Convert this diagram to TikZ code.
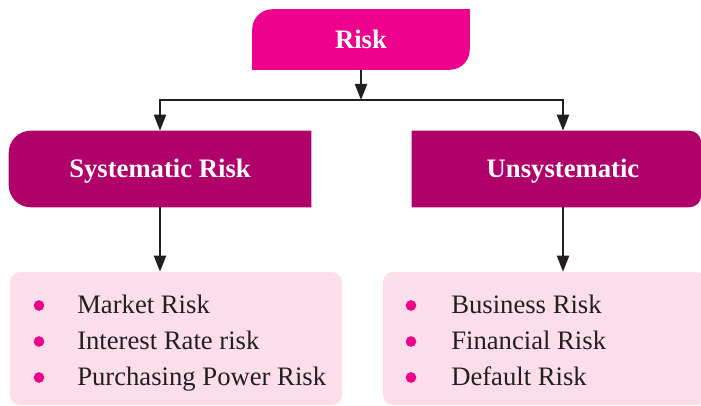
\documentclass[tikz,border=0pt]{standalone}
\usepackage{fontspec}
\setmainfont{Liberation Serif}
\usetikzlibrary{arrows.meta,backgrounds}
\definecolor{PinkTop}{RGB}{236,0,140}
\definecolor{PinkMid}{RGB}{176,0,106}
\definecolor{PinkLst}{RGB}{251,222,233}
\definecolor{InkDark}{RGB}{35,31,32}
\tikzset{
    TT/.style ={rectangle,minimum width = 162.75pt, minimum height = 45pt, text=white, font=\fontsize{20}{24}\selectfont\bfseries, text height=13.5pt, text depth=0pt},
    MM/.style ={rectangle,minimum width = 226.5pt, minimum height = 57pt, text=white, font=\fontsize{20}{24}\selectfont\bfseries, text height=13.5pt, text depth=0pt},
    LB/.style ={rectangle,rounded corners=7.5pt, minimum height = 99.75pt, fill=PinkLst},
    IT/.style ={anchor=base west, inner sep=0pt, text=InkDark, font=\fontsize{20}{24}\selectfont},
    AR/.style ={-{Triangle[length=12pt,width=9pt]}, line width=1.5pt, draw=InkDark},
    BU/.style ={fill=PinkTop}}

\begin{document}
\begin{tikzpicture}[x=0.75pt,y=-0.75pt]
        \useasboundingbox (0,0) rectangle (701,406);
        \node[TT] (1) at(361,39.5){Risk};
        \node[MM] (2) at(160,169){Systematic Risk};
        \node[MM] (3) at(563,169){Unsystematic};
        \node[LB,minimum width = 249pt] (4) at(176,338.5){};
        \node[LB,minimum width = 242.25pt] (5) at(544.5,338.5){};
        \begin{scope}[on background layer]
            \fill[PinkTop] (1.south west) -- ([yshift=-15pt]1.north west) arc[start angle=180,end angle=90,radius=15pt]
                -- (1.north east) -- ([yshift=15pt]1.south east) arc[start angle=0,end angle=-90,radius=15pt] -- cycle;
            \fill[PinkMid] ([xshift=16.5pt]2.south west) arc[start angle=270,end angle=180,radius=16.5pt]
                -- ([yshift=-16.5pt]2.north west) arc[start angle=180,end angle=90,radius=16.5pt]
                -- (2.north east) -- (2.south east) -- cycle;
            \fill[PinkMid] (3.south west) -- (3.north west) -- ([xshift=-18.75pt]3.north east)
                arc[start angle=90,end angle=0,radius=9pt] -- ([xshift=-9.75pt,yshift=9pt]3.south east)
                arc[start angle=0,end angle=-90,radius=9pt] -- cycle;
        \end{scope}
        \coordinate (h0) at(361,100);
        \draw[AR] (1) -- (h0);
        \draw[AR] (h0) -| (2);
        \draw[AR] (h0) -| (3);
        \draw[AR] (2) -- (2 |- 4.north);
        \draw[AR] (3) -- (3 |- 5.north);
        % left list
        \fill[BU] (39,305.5) circle (4pt);
        \fill[BU] (39,341.5) circle (4pt);
        \fill[BU] (39,377.5) circle (4pt);
        \node[IT] (6) at(77,314){Market Risk};
        \node[IT] (7) at(77,350){Interest Rate risk};
        \node[IT] (8) at(77,386){Purchasing Power Risk};
        % right list
        \fill[BU] (411,305.5) circle (4pt);
        \fill[BU] (411,341.5) circle (4pt);
        \fill[BU] (411,377.5) circle (4pt);
        \node[IT] (9) at(451,314){Business Risk};
        \node[IT] (10) at(451,350){Financial Risk};
        \node[IT] (11) at(451,386){Default Risk};
    \end{tikzpicture}
\end{document}
